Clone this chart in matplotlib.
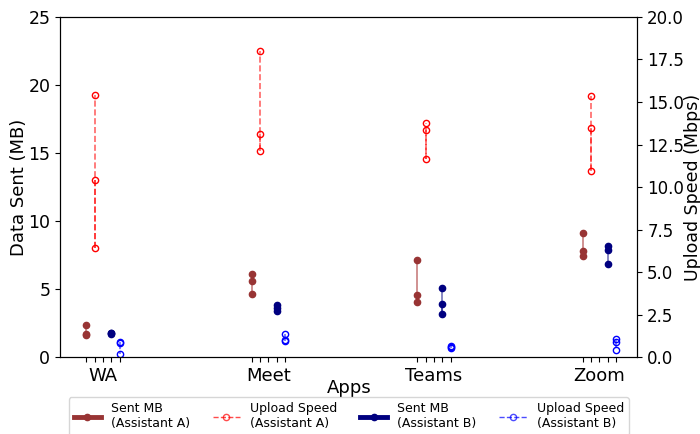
import matplotlib
matplotlib.use("Agg")
import matplotlib.pyplot as plt
from matplotlib.lines import Line2D
import numpy as np

apps = ["WA", "Meet", "Teams", "Zoom"]

# three runs per app, listed in the order they were connected
sent_a = [[2.4, 1.7, 1.6], [6.1, 5.6, 4.65], [7.13, 4.07, 4.6], [9.1, 7.8, 7.43]]
sent_b = [[1.8, 1.75, 1.7], [3.85, 3.6, 3.4], [3.92, 3.16, 5.1], [8.16, 7.87, 6.84]]
upload_a = [[10.4, 6.4, 15.4], [13.1, 12.1, 18.0], [13.35, 11.65, 13.75], [13.45, 10.96, 15.37]]
upload_b = [[0.9, 0.85, 0.2], [1.35, 1.0, 0.95], [0.65, 0.6, 0.55], [1.05, 0.9, 0.4]]


def draw_runs(axis, xpos, vals, color, ls, alpha):
    # each step drawn on its own so that overlapping steps add up
    for j in range(len(vals) - 1):
        axis.plot([xpos, xpos], vals[j:j + 2], color=color, lw=1.2, ls=ls, alpha=alpha)


fig = plt.figure(figsize=(7, 4.34), dpi=100)
ax = fig.add_axes([0.0857, 0.177, 0.825, 0.784])
ax2 = ax.twinx()

x = np.arange(len(apps))
w = 0.05
for i in range(len(apps)):
    xa, xua, xb, xub = x[i] - 2 * w, x[i] - w, x[i] + w, x[i] + 2 * w
    draw_runs(ax, xa, sent_a[i], "brown", "-", 0.6)
    ax.plot([xa] * 3, sent_a[i], "o", color="#983434", ms=4.5, ls="none")
    draw_runs(ax, xb, sent_b[i], "navy", "-", 0.55)
    ax.plot([xb] * 3, sent_b[i], "o", color="navy", ms=4.5, ls="none")
    draw_runs(ax2, xua, upload_a[i], "red", "--", 0.6)
    ax2.plot([xua] * 3, upload_a[i], "o", mfc="none", mec="red", ms=4.5, ls="none")
    draw_runs(ax2, xub, upload_b[i], "blue", "--", 0.6)
    ax2.plot([xub] * 3, upload_b[i], "o", mfc="none", mec="blue", ms=4.5, ls="none")

ticks, labels = [], []
for i, app in enumerate(apps):
    for k in range(-2, 3):
        ticks.append(x[i] + k * w)
        labels.append(app if k == 0 else "")
ax.set_xticks(ticks)
ax.set_xticklabels(labels, fontsize=13)
ax.set_xlim(-0.26, 3.23)

ax.set_ylim(0, 25)
ax2.set_ylim(0, 20)
ax.set_yticks(np.arange(0, 26, 5))
ax2.set_yticks(np.arange(0, 20.1, 2.5))
ax.tick_params(axis="y", labelsize=12.5)
ax2.tick_params(axis="y", labelsize=12)
ax.set_xlabel("Apps", fontsize=13, labelpad=-4)
ax.set_ylabel("Data Sent (MB)", fontsize=13, labelpad=0)
ax2.set_ylabel("Upload Speed (Mbps)", fontsize=12.5, labelpad=-0.5)

handles = [
    Line2D([], [], color="#983434", lw=3.5, marker="o", ms=4.5),
    Line2D([], [], color="red", lw=1, ls="--", marker="o", mfc="none", ms=4.5, alpha=0.7),
    Line2D([], [], color="navy", lw=3.5, marker="o", ms=4.5),
    Line2D([], [], color="blue", lw=1, ls="--", marker="o", mfc="none", ms=4.5, alpha=0.7),
]
names = ["Sent MB\n(Assistant A)", "Upload Speed\n(Assistant A)",
         "Sent MB\n(Assistant B)", "Upload Speed\n(Assistant B)"]
ax.legend(handles, names, loc="upper center", bbox_to_anchor=(0.5, -0.118),
          ncol=4, fontsize=9, frameon=True, handlelength=2.2,
          columnspacing=1.8, borderaxespad=0)

fig.savefig("out.png", dpi=100)
